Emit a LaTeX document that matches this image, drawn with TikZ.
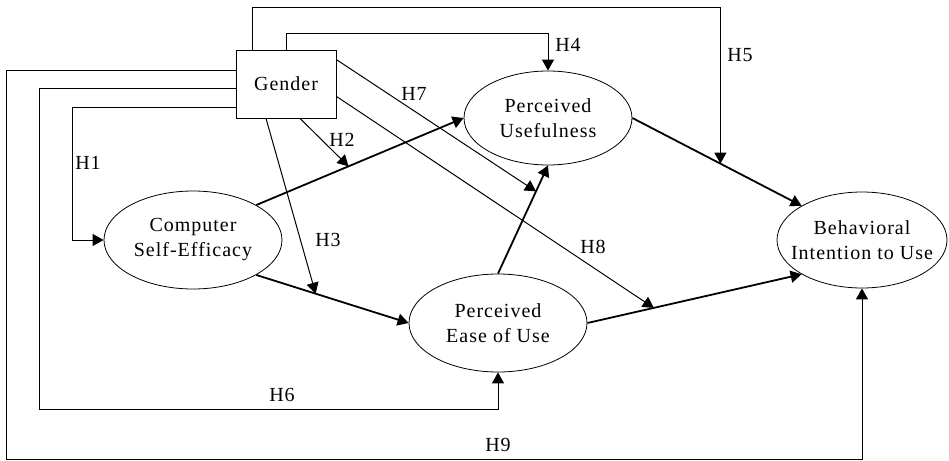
\documentclass[tikz,border=0pt]{standalone}
\usepackage{fontspec}
\setmainfont{Liberation Serif}[LetterSpace=5]
\usetikzlibrary{arrows.meta,calc,shapes.geometric}
\tikzset{
	tamNode/.style={
		draw,
		align=center,
		inner ysep=0pt,
		font=\fontsize{10}{12.5}\selectfont
	},
	tamLatent/.style={tamNode, ellipse, inner xsep=-10pt},
	tamGroup/.style={tamNode, rectangle},
	tamLabel/.style={font=\fontsize{10}{12}\selectfont, inner sep=1pt},
	tamPath/.style={-{Triangle[length=5.5pt,width=6pt]}, line width=0.9pt},
	tamHyp/.style={-{Triangle[length=5.5pt,width=6pt]}, line width=0.5pt}
}

\begin{document}
\begin{tikzpicture}[x=0.5pt, y=-0.5pt]
	\useasboundingbox (0,0) rectangle (949,461);

	% Constructs
	\node[tamGroup, minimum width=50pt, minimum height=34pt] (gender) at (286,84) {Gender};
	\node[tamLatent, minimum width=89pt, minimum height=49pt] (cse) at (193,240)
	{Computer\\Self-Efficacy};
	\node[tamLatent, minimum width=84pt, minimum height=47pt] (pu) at (548,118)
	{Perceived\\Usefulness};
	\node[tamLatent, minimum width=89pt, minimum height=49pt] (peu) at (498,323)
	{Perceived\\Ease of Use};
	\node[tamLatent, minimum width=85pt, minimum height=48pt] (bi) at (862,240)
	{Behavioral\\Intention to Use};

	% Main paths
	\draw[tamPath] (cse.north east) -- coordinate[pos=0.445] (m2) (pu.west);
	\draw[tamPath] (cse.south east) -- coordinate[pos=0.39] (m3) (peu.west);
	\draw[tamPath] (peu.north) -- coordinate[pos=0.76] (m7) (pu.south);
	\draw[tamPath] (pu.east) -- coordinate[pos=0.52] (m5) (bi.north west);
	\draw[tamPath] (peu.east) -- coordinate[pos=0.31] (m8) (bi.south west);

	% Hypotheses from Gender
	\draw[tamHyp] ([yshift=5.5pt]gender.south west) -- ++(-163,0) |- (cse.west);
	\draw[tamHyp] ([xshift=7pt]gender.south) -- (m2);
	\draw[tamHyp] ([xshift=-10pt]gender.south) -- (m3);
	\draw[tamHyp] (gender.north) -- ++(0,-16) -| (pu.north);
	\draw[tamHyp] ([xshift=8.5pt]gender.north west) -- ++(0,-42) -| (m5);
	\draw[tamHyp] ([yshift=15pt]gender.south west) -- ++(-196,0) -- ++(0,321) -| (peu.south);
	\draw[tamHyp] ([yshift=-5pt]gender.north east) -- (m7);
	\draw[tamHyp] ([yshift=11pt]gender.south east) -- (m8);
	\draw[tamHyp] ([yshift=24pt]gender.south west) -- ++(-229,0) -- ++(0,389) -| (bi.south);

	% Labels
	\node[tamLabel] (h1) at (88,163) {H1};
	\node[tamLabel] (h2) at (342,140) {H2};
	\node[tamLabel] (h3) at (328,240) {H3};
	\node[tamLabel] (h4) at (568,45) {H4};
	\node[tamLabel] (h5) at (740,55) {H5};
	\node[tamLabel] (h6) at (282,395) {H6};
	\node[tamLabel] (h7) at (414,94) {H7};
	\node[tamLabel] (h8) at (593,247) {H8};
	\node[tamLabel] (h9) at (498,445) {H9};

\end{tikzpicture}
\end{document}
